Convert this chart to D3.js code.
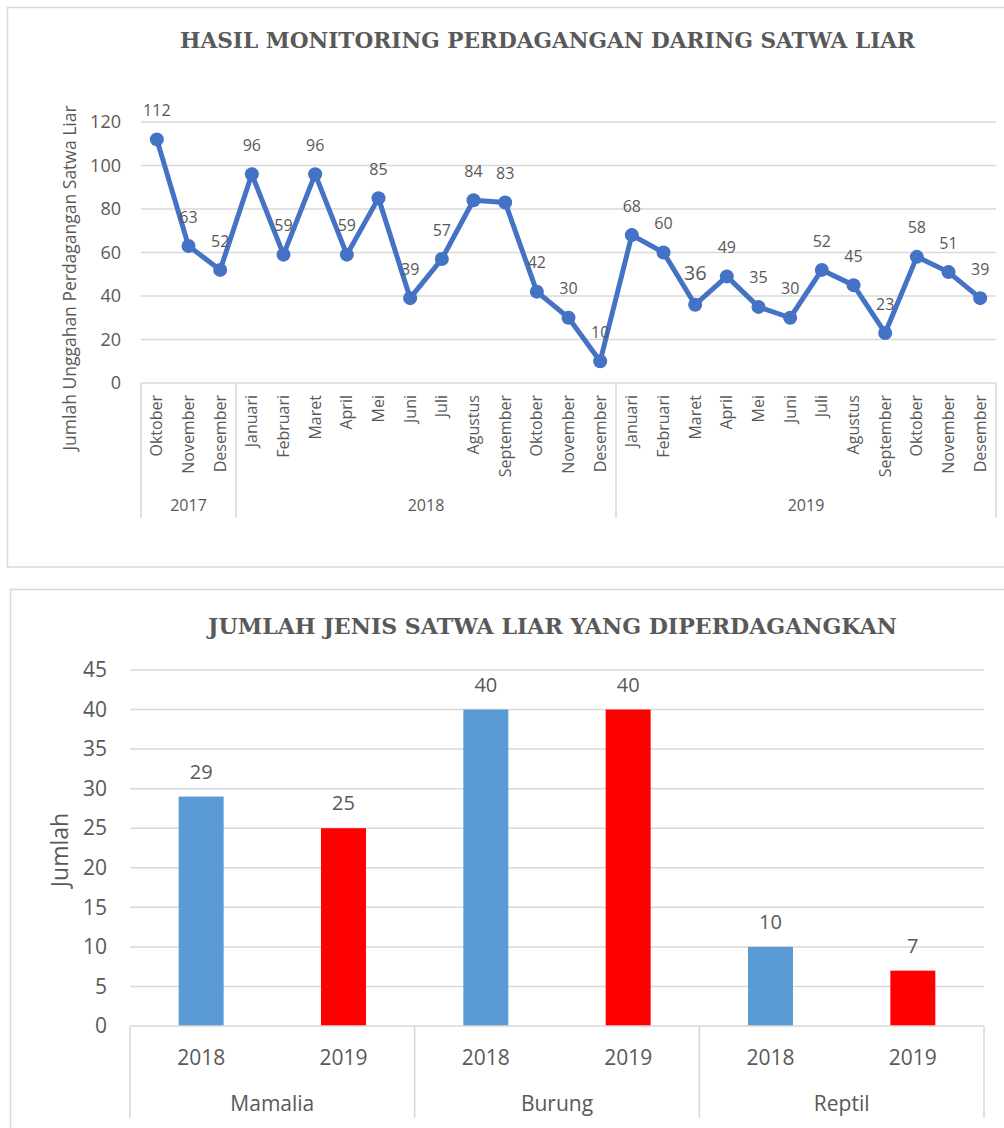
<!DOCTYPE html>
<html>
<head>
<meta charset="utf-8">
<script src="https://cdn.jsdelivr.net/npm/d3@7"></script>
<style>
  body { margin: 0; background: #fff; }
  text { font-family: "Open Sans", "Noto Sans", sans-serif; fill: #595959; }
  .title { font-family: "DejaVu Serif", serif; font-weight: bold; }
</style>
</head>
<body>
<svg id="chart" width="1004" height="1128"></svg>
<script>
// top chart data
var months = ['Oktober', 'November', 'Desember',
  'Januari', 'Februari', 'Maret', 'April', 'Mei', 'Juni', 'Juli', 'Agustus', 'September', 'Oktober', 'November', 'Desember',
  'Januari', 'Februari', 'Maret', 'April', 'Mei', 'Juni', 'Juli', 'Agustus', 'September', 'Oktober', 'November', 'Desember'];
var years = ['2017', '2018', '2019'];
var monthsPerYear = [3, 12, 12];
var uploads = [112, 63, 52, 96, 59, 96, 59, 85, 39, 57, 84, 83, 42, 30, 10, 68, 60, 36, 49, 35, 30, 52, 45, 23, 58, 51, 39];
var uploadTicks = [0, 20, 40, 60, 80, 100, 120];

// bottom chart data
var animals = ['Mamalia', 'Burung', 'Reptil'];
var barYears = ['2018', '2019'];
var species2018 = [29, 40, 10];
var species2019 = [25, 40, 7];
var speciesTicks = [0, 5, 10, 15, 20, 25, 30, 35, 40, 45];

var svg = d3.select('#chart');
var grid = '#d9d9d9';

// ---------- chart 1 ----------
svg.append('rect')
  .attr('x', 7.5).attr('y', 7.5)
  .attr('width', 1010).attr('height', 559.5)
  .attr('fill', 'none').attr('stroke', grid).attr('stroke-width', 1.5);

svg.append('text')
  .attr('class', 'title')
  .attr('x', 180).attr('y', 48)
  .attr('textLength', 735).attr('lengthAdjust', 'spacingAndGlyphs')
  .style('font-size', '23px')
  .text('HASIL MONITORING PERDAGANGAN DARING SATWA LIAR');

var idx = months.map(function(d, i) { return i; });
var x1 = d3.scaleBand().domain(idx).range([141, 996]);
var y1 = d3.scaleLinear().domain([0, 120]).range([383, 122]);

var g1 = svg.append('g');

g1.selectAll('.grid1')
  .data(uploadTicks.slice(1))
  .enter().append('line')
    .attr('x1', 141).attr('x2', 996)
    .attr('y1', function(d) { return y1(d); })
    .attr('y2', function(d) { return y1(d); })
    .attr('stroke', grid).attr('stroke-width', 1.5);

var axisY1 = d3.axisLeft(y1).tickValues(uploadTicks).tickSize(0).tickPadding(20);
g1.append('g')
  .attr('transform', 'translate(141,0)')
  .call(axisY1)
  .call(function(g) { g.select('.domain').remove(); })
  .selectAll('text')
    .style('font-size', '18px').style('font-family', '"Open Sans", sans-serif').attr('fill', '#595959');

// category axis
g1.append('line')
  .attr('x1', 141).attr('x2', 996).attr('y1', 383).attr('y2', 383)
  .attr('stroke', grid).attr('stroke-width', 1.5);

var starts = [0];
monthsPerYear.forEach(function(n, i) { starts.push(starts[i] + n); });
var sepX = starts.map(function(s) { return s < months.length ? x1(s) : x1.range()[1]; });

g1.selectAll('.sep1')
  .data(sepX)
  .enter().append('line')
    .attr('x1', function(d) { return d; }).attr('x2', function(d) { return d; })
    .attr('y1', 383).attr('y2', 518)
    .attr('stroke', grid).attr('stroke-width', 1.5);

g1.selectAll('.month')
  .data(months)
  .enter().append('text')
    .attr('transform', function(d, i) { return 'translate(' + (x1(i) + x1.bandwidth() / 2) + ',395) rotate(-90)'; })
    .attr('text-anchor', 'end')
    .attr('dy', '0.35em')
    .style('font-size', '16px')
    .text(function(d) { return d; });

g1.selectAll('.year')
  .data(years)
  .enter().append('text')
    .attr('x', function(d, i) { return (sepX[i] + sepX[i + 1]) / 2; })
    .attr('y', 505)
    .attr('dy', '0.35em')
    .attr('text-anchor', 'middle')
    .style('font-size', '16px')
    .text(function(d) { return d; });

g1.append('text')
  .attr('transform', 'translate(70,278) rotate(-90)')
  .attr('text-anchor', 'middle')
  .attr('dy', '0.35em')
  .style('font-size', '17.5px')
  .text('Jumlah Unggahan Perdagangan Satwa Liar');

var line = d3.line()
  .x(function(d, i) { return x1(i) + x1.bandwidth() / 2; })
  .y(function(d) { return y1(d); });

g1.append('path')
  .datum(uploads)
  .attr('d', line)
  .attr('fill', 'none')
  .attr('stroke', '#4472c4')
  .attr('stroke-width', 5)
  .attr('stroke-linejoin', 'round');

g1.selectAll('.dot')
  .data(uploads)
  .enter().append('circle')
    .attr('cx', function(d, i) { return x1(i) + x1.bandwidth() / 2; })
    .attr('cy', function(d) { return y1(d); })
    .attr('r', 7)
    .attr('fill', '#4472c4');

g1.selectAll('.lbl1')
  .data(uploads)
  .enter().append('text')
    .attr('x', function(d, i) { return x1(i) + x1.bandwidth() / 2; })
    .attr('y', function(d, i) { return y1(d) - (i === 17 ? 32 : 29); })
    .attr('dy', '0.35em')
    .attr('text-anchor', 'middle')
    .style('font-size', function(d, i) { return i === 17 ? '20px' : '16px'; })
    .text(function(d) { return d; });

// ---------- chart 2 ----------
svg.append('rect')
  .attr('x', 10.5).attr('y', 589.5)
  .attr('width', 1010).attr('height', 600)
  .attr('fill', 'none').attr('stroke', grid).attr('stroke-width', 1.5);

svg.append('text')
  .attr('class', 'title')
  .attr('x', 208).attr('y', 634)
  .attr('textLength', 689).attr('lengthAdjust', 'spacingAndGlyphs')
  .style('font-size', '21.5px')
  .text('JUMLAH JENIS SATWA LIAR YANG DIPERDAGANGKAN');

var bars = [];
animals.forEach(function(a, i) {
  bars.push({ animal: a, year: barYears[0], value: species2018[i] });
  bars.push({ animal: a, year: barYears[1], value: species2019[i] });
});

var x2 = d3.scaleBand().domain(d3.range(bars.length)).range([130, 984]);
var y2 = d3.scaleLinear().domain([0, 45]).range([1026, 670]);
var barW = x2.step() * 0.316;

var g2 = svg.append('g');

g2.selectAll('.grid2')
  .data(speciesTicks.slice(1))
  .enter().append('line')
    .attr('x1', 130).attr('x2', 984)
    .attr('y1', function(d) { return y2(d); })
    .attr('y2', function(d) { return y2(d); })
    .attr('stroke', grid).attr('stroke-width', 1.5);

var axisY2 = d3.axisLeft(y2).tickValues(speciesTicks).tickSize(0).tickPadding(23);
g2.append('g')
  .attr('transform', 'translate(130,0)')
  .call(axisY2)
  .call(function(g) { g.select('.domain').remove(); })
  .selectAll('text')
    .style('font-size', '21px').style('font-family', '"Open Sans", sans-serif').attr('fill', '#595959');

g2.append('text')
  .attr('transform', 'translate(60,850) rotate(-90)')
  .attr('text-anchor', 'middle')
  .attr('dy', '0.35em')
  .style('font-size', '23px')
  .text('Jumlah');

g2.selectAll('.bar')
  .data(bars)
  .enter().append('rect')
    .attr('x', function(d, i) { return x2(i) + (x2.bandwidth() - barW) / 2; })
    .attr('y', function(d) { return y2(d.value); })
    .attr('width', barW)
    .attr('height', function(d) { return y2(0) - y2(d.value); })
    .attr('fill', function(d) { return d.year === '2018' ? '#5b9bd5' : '#ff0000'; });

g2.selectAll('.lbl2')
  .data(bars)
  .enter().append('text')
    .attr('x', function(d, i) { return x2(i) + x2.bandwidth() / 2; })
    .attr('y', function(d) { return y2(d.value) - 25; })
    .attr('dy', '0.35em')
    .attr('text-anchor', 'middle')
    .style('font-size', '20px')
    .text(function(d) { return d.value; });

g2.append('line')
  .attr('x1', 130).attr('x2', 984).attr('y1', 1026).attr('y2', 1026)
  .attr('stroke', grid).attr('stroke-width', 1.5);

var groupX = d3.range(animals.length + 1).map(function(k) {
  return k < animals.length ? x2(k * 2) : x2.range()[1];
});

g2.selectAll('.sep2')
  .data(groupX)
  .enter().append('line')
    .attr('x1', function(d) { return d; }).attr('x2', function(d) { return d; })
    .attr('y1', 1026).attr('y2', 1118)
    .attr('stroke', grid).attr('stroke-width', 1.5);

g2.selectAll('.yr2')
  .data(bars)
  .enter().append('text')
    .attr('x', function(d, i) { return x2(i) + x2.bandwidth() / 2; })
    .attr('y', 1058)
    .attr('dy', '0.35em')
    .attr('text-anchor', 'middle')
    .style('font-size', '21px')
    .text(function(d) { return d.year; });

g2.selectAll('.animal')
  .data(animals)
  .enter().append('text')
    .attr('x', function(d, i) { return (groupX[i] + groupX[i + 1]) / 2; })
    .attr('y', 1104)
    .attr('dy', '0.35em')
    .attr('text-anchor', 'middle')
    .style('font-size', '21px')
    .text(function(d) { return d; });
</script>
</body>
</html>
